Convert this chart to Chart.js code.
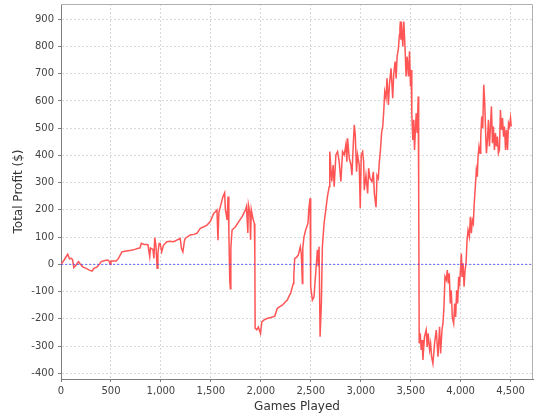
<!DOCTYPE html>
<html>
<head>
<meta charset="utf-8">
<script src="https://cdn.jsdelivr.net/npm/chart.js@4/dist/chart.umd.min.js"></script>
<style>
  html, body { margin: 0; padding: 0; background: #fff; }
</style>
</head>
<body>
<canvas id="chart" width="540" height="420"></canvas>
<script>
// games played (x) and running total profit in $ (y)
const games = [
  0, 30, 67, 85, 101, 115, 128, 150, 175, 195, 218, 250, 285, 310, 330, 362, 380, 402, 440, 469,
  480, 493, 500, 553, 575, 610, 640, 704, 740, 771, 790, 804, 830, 855, 870, 888, 895, 920, 930, 938,
  950, 962, 970, 982, 992, 1008, 1025, 1059, 1092, 1126, 1159, 1193, 1205, 1220, 1235, 1243, 1293, 1330, 1360, 1394,
  1430, 1461, 1494, 1528, 1545, 1561, 1571, 1580, 1595, 1621, 1638, 1645, 1652, 1662, 1672, 1680, 1689, 1695, 1700, 1712,
  1746, 1779, 1813, 1846, 1856, 1870, 1876, 1890, 1897, 1905, 1920, 1935, 1940, 1943, 1960, 1975, 1997, 2010, 2030, 2060,
  2100, 2140, 2164, 2190, 2215, 2240, 2265, 2285, 2298, 2325, 2330, 2339, 2355, 2375, 2395, 2405, 2416, 2420, 2432, 2449,
  2472, 2480, 2493, 2499, 2516, 2532, 2549, 2566, 2576, 2583, 2593, 2606, 2616, 2633, 2650, 2667, 2684, 2690, 2710, 2724,
  2734, 2751, 2768, 2784, 2801, 2818, 2835, 2851, 2861, 2868, 2885, 2902, 2912, 2925, 2935, 2945, 2958, 2968, 2985, 2995,
  3005, 3019, 3029, 3035, 3052, 3069, 3079, 3092, 3112, 3126, 3136, 3153, 3163, 3176, 3186, 3196, 3210, 3220, 3230, 3240,
  3253, 3263, 3277, 3287, 3303, 3320, 3330, 3344, 3354, 3364, 3377, 3387, 3392, 3397, 3402, 3407, 3421, 3431, 3444, 3454,
  3464, 3478, 3488, 3498, 3505, 3511, 3521, 3531, 3538, 3555, 3565, 3575, 3578, 3582, 3585, 3595, 3605, 3615, 3622, 3638,
  3655, 3665, 3675, 3689, 3699, 3709, 3722, 3739, 3756, 3773, 3789, 3799, 3813, 3823, 3833, 3843, 3856, 3866, 3876, 3886,
  3896, 3906, 3916, 3930, 3940, 3950, 3960, 3970, 3980, 3990, 4000, 4007, 4014, 4024, 4034, 4044, 4054, 4064, 4074, 4087,
  4097, 4107, 4117, 4127, 4134, 4147, 4157, 4167, 4174, 4184, 4194, 4201, 4211, 4221, 4231, 4241, 4251, 4258, 4268, 4278,
  4288, 4298, 4308, 4318, 4328, 4338, 4348, 4358, 4368, 4378, 4388, 4398, 4409, 4419, 4429, 4439, 4449, 4459, 4469, 4479,
  4489, 4499, 4506
];
const profit = [
  0, 15, 37, 20, 22, 18, -12, -3, 10, 0, -9, -15, -21, -25, -15, -9, -2, 10, 14, 16,
  12, 0, 12, 12, 22, 46, 48, 52, 55, 59, 60, 77, 73, 73, 72, 28, 60, 55, 22, 98,
  70, -14, 40, 77, 77, 46, 70, 83, 85, 83, 89, 95, 60, 46, 85, 95, 108, 110, 114, 132,
  138, 144, 157, 187, 193, 200, 89, 190, 212, 249, 263, 200, 188, 163, 249, 120, -58, -90, 60, 126,
  138, 157, 175, 200, 212, 115, 218, 190, 90, 200, 170, 150, 41, -234, -240, -230, -254, -211, -205, -199,
  -195, -190, -162, -155, -150, -140, -131, -115, -107, -70, -40, 22, 25, 34, 65, 40, -70, 60, 101, 126,
  151, 200, 243, -82, -131, -120, -33, 53, -8, 65, -266, -143, 65, 151, 200, 250, 285, 414, 304, 365,
  285, 402, 414, 377, 304, 414, 402, 439, 377, 463, 390, 365, 327, 439, 512, 476, 340, 402, 365, 206,
  402, 414, 377, 272, 327, 260, 353, 316, 304, 340, 260, 210, 327, 316, 377, 414, 488, 506, 561, 634,
  610, 683, 585, 659, 720, 610, 700, 745, 683, 763, 793, 843, 868, 892, 825, 892, 800, 892, 788, 690,
  763, 690, 782, 653, 714, 555, 457, 531, 420, 555, 482, 616, 298, 261, -290, -253, -314, -278, -351, -266,
  -241, -303, -253, -314, -290, -339, -364, -290, -241, -339, -229, -327, -241, -217, -156, -45, -57, -21, -70, -33,
  -144, -95, -193, -217, -144, -193, -95, -144, -46, -70, -9, 40, -46, 4, -82, -21, 4, 89, 126, 102,
  175, 114, 163, 151, 212, 286, 347, 322, 396, 433, 408, 469, 543, 500, 659, 592, 469, 408, 457, 531,
  433, 506, 580, 445, 506, 420, 482, 433, 469, 408, 420, 567, 494, 537, 469, 506, 420, 494, 420, 518,
  506, 537, 506
];

// zero marker line
const zeroX = [0, 4724];
const zeroY = [0, 0];

const xTicks = [0, 500, 1000, 1500, 2000, 2500, 3000, 3500, 4000, 4500];
const yTicks = [-400, -300, -200, -100, 0, 100, 200, 300, 400, 500, 600, 700, 800, 900];

const font = { family: 'DejaVu Sans', size: 10 };
const titleFont = { family: 'DejaVu Sans', size: 12 };

const plotOutline = {
  id: 'plotOutline',
  afterDraw(chart) {
    const { ctx, chartArea: a } = chart;
    ctx.save();
    ctx.strokeStyle = '#b0b0b0';
    ctx.lineWidth = 1;
    ctx.beginPath();
    ctx.moveTo(a.left, a.top + 0.5);
    ctx.lineTo(a.right - 0.5, a.top + 0.5);
    ctx.lineTo(a.right - 0.5, a.bottom);
    ctx.stroke();
    ctx.restore();
  }
};

new Chart(document.getElementById('chart'), {
  type: 'line',
  data: {
    datasets: [
      {
        label: 'Total Profit',
        data: games.map((g, i) => ({ x: g, y: profit[i] })),
        borderColor: '#ff5555',
        borderWidth: 1.5,
        pointRadius: 0,
        tension: 0,
        order: 1
      },
      {
        label: 'zero',
        data: zeroX.map((g, i) => ({ x: g, y: zeroY[i] })),
        borderColor: 'rgba(60,60,255,0.75)',
        borderWidth: 1,
        borderDash: [2, 2],
        pointRadius: 0,
        order: 0
      }
    ]
  },
  options: {
    responsive: false,
    animation: false,
    layout: { padding: { top: 4, right: 7, left: 0, bottom: 0 } },
    plugins: { legend: { display: false }, tooltip: { enabled: false } },
    scales: {
      x: {
        type: 'linear',
        min: 0,
        max: 4724,
        afterBuildTicks: s => { s.ticks = xTicks.map(v => ({ value: v })); },
        afterFit: s => { s.height = 41; s.paddingLeft = 0; s.paddingRight = 0; },
        ticks: { color: '#444', font, padding: 3, maxRotation: 0,
          callback: v => v.toLocaleString('en-US') },
        grid: { color: '#d8d8d8', tickColor: '#808080', tickLength: 3 },
        border: { color: '#808080', dash: [2, 2] },
        title: { display: true, text: 'Games Played', color: '#333', font: titleFont, padding: { top: 2, bottom: 6 } }
      },
      y: {
        type: 'linear',
        min: -421,
        max: 956,
        afterBuildTicks: s => { s.ticks = yTicks.map(v => ({ value: v })); },
        afterFit: s => { s.width = 61; s.paddingTop = 0; s.paddingBottom = 0; },
        ticks: { color: '#444', font, padding: 4 },
        grid: { color: '#d8d8d8', tickColor: '#808080', tickLength: 3 },
        border: { color: '#808080', dash: [2, 2] },
        title: { display: true, text: 'Total Profit ($)', color: '#333', font: titleFont, padding: { top: 12, bottom: 6 } }
      }
    }
  },
  plugins: [plotOutline]
});
</script>
</body>
</html>
